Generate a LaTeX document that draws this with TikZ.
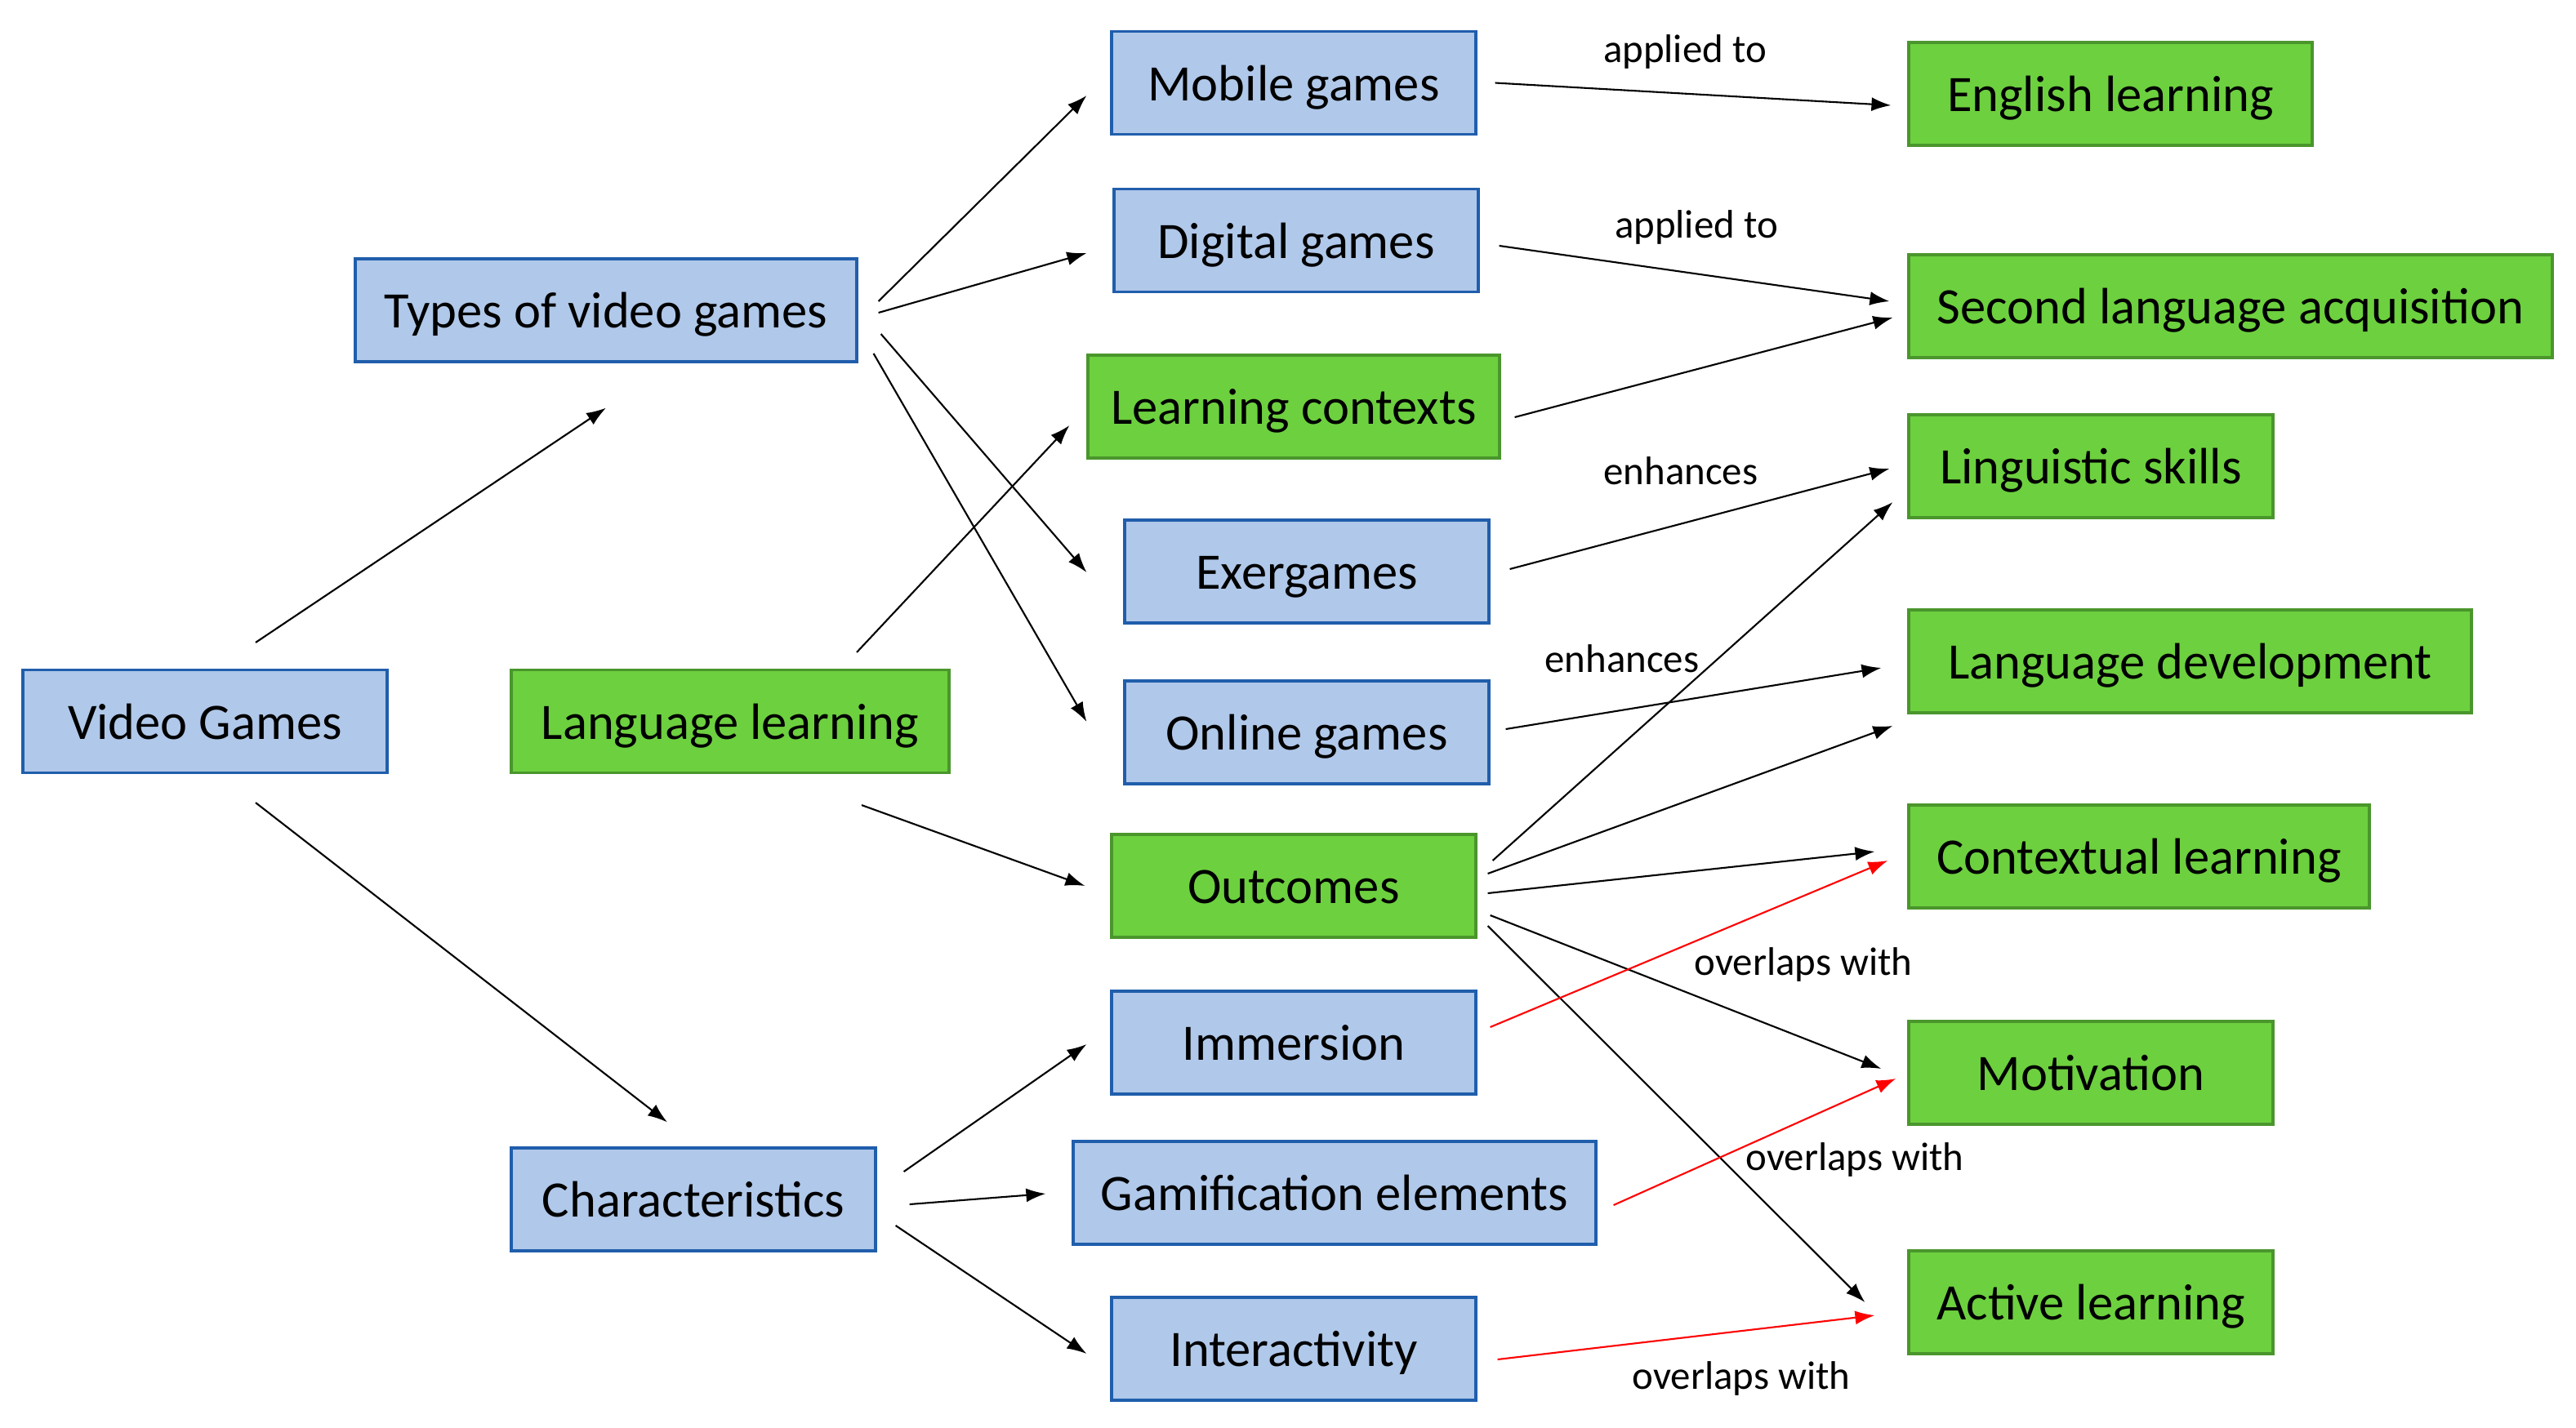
\documentclass[tikz,border=0pt]{standalone}
\usepackage{fontspec}
\setmainfont{Carlito}
\usetikzlibrary{arrows.meta,calc}
\definecolor{bfill}{RGB}{176,200,233}
\definecolor{bdraw}{RGB}{32,94,172}
\definecolor{gfill}{RGB}{109,208,63}
\definecolor{gdraw}{RGB}{74,150,44}
\tikzset{
  base/.style={rectangle, minimum height=1.26cm, inner sep=0pt, line width=0.9pt, font=\fontsize{17.8}{20}\selectfont, text height=12.4pt, text depth=0pt},
  bluebox/.style={base, fill=bfill, draw=bdraw},
  greenbox/.style={base, fill=gfill, draw=gdraw},
  arr/.style={-{Latex[length=0.24cm,width=0.17cm]}, line width=0.6pt, black},
  redarr/.style={arr, red},
  lbl/.style={font=\fontsize{13.9}{16}\selectfont, inner sep=0pt}
}
\begin{document}
\begin{tikzpicture}[x=1cm,y=1cm]
\useasboundingbox (0,0) rectangle (31.54,-17.49);
% nodes (centres in px/100)
\node[bluebox, minimum width=4.46cm] (vg) at (2.51,-8.835) {Video Games};
\node[bluebox, minimum width=6.14cm] (types) at (7.42,-3.80) {Types of video games};
\node[greenbox, minimum width=5.36cm] (lang) at (8.94,-8.835) {Language learning};
\node[bluebox, minimum width=4.46cm] (chars) at (8.49,-14.69) {Characteristics};
\node[bluebox, minimum width=4.46cm] (mobile) at (15.84,-1.015) {Mobile games};
\node[bluebox, minimum width=4.46cm] (digital) at (15.87,-2.945) {Digital games};
\node[greenbox, minimum width=5.04cm] (lc) at (15.84,-4.98) {Learning contexts};
\node[bluebox, minimum width=4.46cm] (exer) at (16.00,-7.00) {Exergames};
\node[bluebox, minimum width=4.46cm] (online) at (16.00,-8.97) {Online games};
\node[greenbox, minimum width=4.46cm] (outcomes) at (15.84,-10.85) {Outcomes};
\node[bluebox, minimum width=4.46cm] (immersion) at (15.84,-12.77) {Immersion};
\node[bluebox, minimum width=6.40cm] (gamif) at (16.34,-14.61) {Gamification elements};
\node[bluebox, minimum width=4.46cm] (inter) at (15.84,-16.52) {Interactivity};
\node[greenbox, minimum width=4.94cm] (english) at (25.84,-1.15) {English learning};
\node[greenbox, minimum width=7.88cm] (sla) at (27.31,-3.75) {Second language acquisition};
\node[greenbox, minimum width=4.46cm] (ling) at (25.60,-5.71) {Linguistic skills};
\node[greenbox, minimum width=6.89cm] (langdev) at (26.815,-8.10) {Language development};
\node[greenbox, minimum width=5.64cm] (context) at (26.19,-10.49) {Contextual learning};
\node[greenbox, minimum width=4.46cm] (motiv) at (25.60,-13.14) {Motivation};
\node[greenbox, minimum width=4.46cm] (active) at (25.60,-15.95) {Active learning};
% labels
\node[lbl] (l1) at (20.63,-0.63) {applied to};
\node[lbl] (l2) at (20.77,-2.78) {applied to};
\node[lbl] (l3) at (20.58,-5.77) {enhances};
\node[lbl] (l4) at (19.86,-8.07) {enhances};
\node[lbl] (l5) at (22.08,-11.81) {overlaps with};
\node[lbl] (l6) at (22.71,-14.20) {overlaps with};
\node[lbl] (l7) at (21.32,-16.88) {overlaps with};
% connectors
\draw[arr] ($(vg.north)+(0.62,0.32)$) -- ($(types.south)+(0,-0.55)$);
\draw[arr] ($(vg.south)+(0.62,-0.35)$) -- ($(chars.north)+(-0.32,0.30)$);
\draw[arr] ($(types.east)+(0.25,0.11)$) -- ($(mobile.west)+(-0.29,-0.155)$);
\draw[arr] ($(types.east)+(0.25,-0.03)$) -- ($(digital.west)+(-0.32,-0.155)$);
\draw[arr] ($(types.east)+(0.28,-0.29)$) -- ($(exer.west)+(-0.45,-0.01)$);
\draw[arr] ($(types.east)+(0.19,-0.53)$) -- ($(online.west)+(-0.45,0.13)$);
\draw[arr] ($(lang.north)+(1.55,0.20)$) -- ($(lc.west)+(-0.21,-0.23)$);
\draw[arr] ($(lang.south)+(1.61,-0.38)$) -- ($(outcomes.west)+(-0.31,0)$);
\draw[arr] ($(chars.east)+(0.33,0.34)$) -- ($(immersion.west)+(-0.29,-0.02)$);
\draw[arr] ($(chars.east)+(0.40,-0.06)$) -- ($(gamif.west)+(-0.32,-0.01)$);
\draw[arr] ($(chars.east)+(0.23,-0.32)$) -- ($(inter.west)+(-0.29,-0.06)$);
\draw[arr] ($(mobile.east)+(0.22,0)$) -- ($(english.west)+(-0.20,-0.14)$);
\draw[arr] ($(digital.east)+(0.24,-0.065)$) -- ($(sla.west)+(-0.22,0.06)$);
\draw[arr] ($(lc.east)+(0.17,-0.13)$) -- ($(sla.west)+(-0.18,-0.14)$);
\draw[arr] ($(exer.east)+(0.24,0.03)$) -- ($(ling.west)+(-0.22,-0.03)$);
\draw[arr] ($(online.east)+(0.19,0.04)$) -- ($(langdev.west)+(-0.32,-0.08)$);
\draw[arr] ($(outcomes.east)+(0.19,0.31)$) -- ($(ling.west)+(-0.18,-0.44)$);
\draw[arr] ($(outcomes.east)+(0.13,0.15)$) -- ($(langdev.west)+(-0.18,-0.79)$);
\draw[arr] ($(outcomes.east)+(0.13,-0.09)$) -- ($(context.west)+(-0.40,0.06)$);
\draw[arr] ($(outcomes.east)+(0.16,-0.36)$) -- ($(motiv.west)+(-0.32,0.05)$);
\draw[arr] ($(outcomes.east)+(0.13,-0.49)$) -- ($(active.west)+(-0.52,0)$);
\draw[redarr] ($(immersion.east)+(0.16,0.19)$) -- ($(context.west)+(-0.24,-0.05)$);
\draw[redarr] ($(gamif.east)+(0.20,-0.15)$) -- ($(motiv.west)+(-0.14,-0.07)$);
\draw[redarr] ($(inter.east)+(0.25,-0.13)$) -- ($(active.west)+(-0.40,-0.16)$);
\end{tikzpicture}
\end{document}
